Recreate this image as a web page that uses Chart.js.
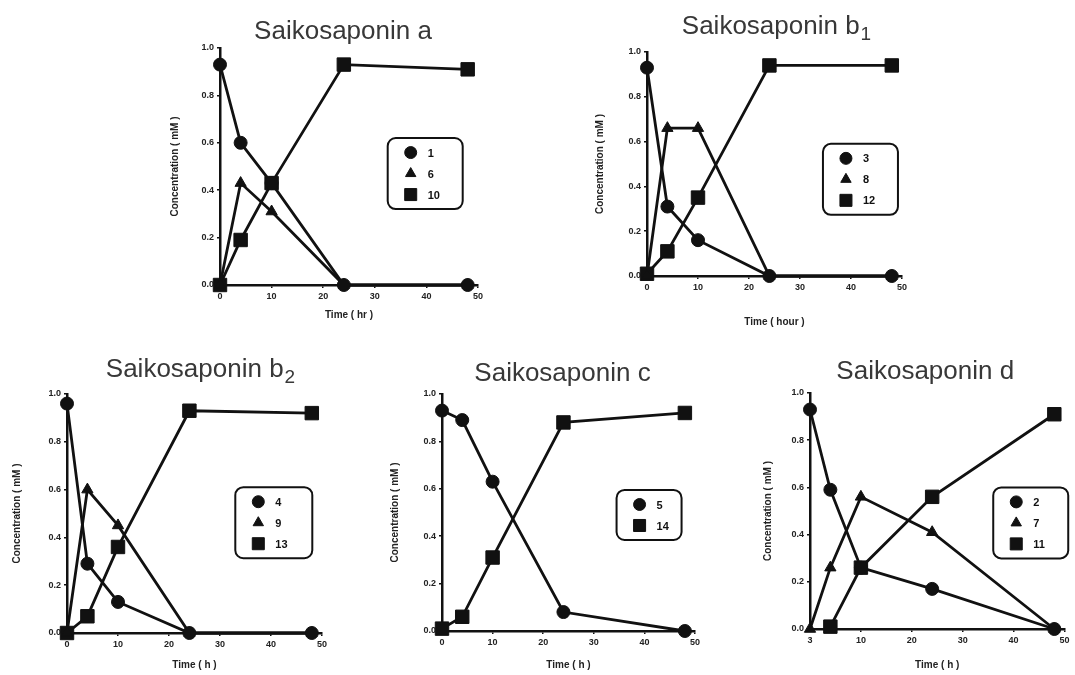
<!DOCTYPE html>
<html>
<head>
<meta charset="utf-8">
<script src="https://cdn.jsdelivr.net/npm/chart.js@4.4.1/dist/chart.umd.min.js"></script>
<style>
  html, body { margin: 0; padding: 0; background: #fff; width: 1075px; height: 675px; overflow: hidden; }
  .panel { position: absolute; }
</style>
</head>
<body>
<div class="panel" id="p0"><canvas id="c0"></canvas></div>
<div class="panel" id="p1"><canvas id="c1"></canvas></div>
<div class="panel" id="p2"><canvas id="c2"></canvas></div>
<div class="panel" id="p3"><canvas id="c3"></canvas></div>
<div class="panel" id="p4"><canvas id="c4"></canvas></div>
<script>
// sampling times (h) shared by every panel
const times = [0, 4, 10, 24, 48];
const xTickLabels = ['0', '10', '20', '30', '40', '50'];
const dTickLabels = ['3', '10', '20', '30', '40', '50'];
const yTickLabels = ['0.0', '0.2', '0.4', '0.6', '0.8', '1.0'];

// Saikosaponin a
const saA_1 = [0.93, 0.60, 0.43, 0.00, 0.00];
const saA_6 = [0.00, 0.43, 0.31, 0.00, 0.00];
const saA_10 = [0.00, 0.19, 0.43, 0.93, 0.91];

// Saikosaponin b1
const saB1_3 = [0.93, 0.31, 0.16, 0.00, 0.00];
const saB1_8 = [0.00, 0.66, 0.66, 0.00, 0.00];
const saB1_12 = [0.01, 0.11, 0.35, 0.94, 0.94];

// Saikosaponin b2
const saB2_4 = [0.96, 0.29, 0.13, 0.00, 0.00];
const saB2_9 = [0.00, 0.60, 0.45, 0.00, 0.00];
const saB2_13 = [0.00, 0.07, 0.36, 0.93, 0.92];

// Saikosaponin c
const saC_5 = [0.93, 0.89, 0.63, 0.08, 0.00];
const saC_14 = [0.01, 0.06, 0.31, 0.88, 0.92];

// Saikosaponin d
const saD_2 = [0.93, 0.59, 0.26, 0.17, 0.00];
const saD_7 = [0.00, 0.26, 0.56, 0.41, 0.00];
const saD_11 = [null, 0.01, 0.26, 0.56, 0.91];

const FONT = "'Liberation Sans', Arial, Helvetica, sans-serif";
const INK = '#111';

function pts(vals) {
  return vals.map((v, i) => ({ x: times[i], y: v }));
}

function series(label, vals, style) {
  return {
    label: label,
    data: pts(vals),
    pointStyle: style,
    pointRadius: style === 'rect' ? 9.5 : 6.5,
    pointHoverRadius: style === 'rect' ? 9.5 : 6.5,
    pointBackgroundColor: INK,
    pointBorderColor: INK,
    pointBorderWidth: 1,
    borderColor: INK,
    borderWidth: 2.8,
    tension: 0,
    fill: false,
    clip: false
  };
}

// title with optional subscript
const titlePlugin = {
  id: 'panelTitle',
  afterDraw(chart, args, o) {
    const { ctx, chartArea: a } = chart;
    ctx.save();
    ctx.fillStyle = '#383838';
    ctx.textBaseline = 'alphabetic';
    ctx.font = '26px ' + FONT;
    const w1 = ctx.measureText(o.text).width;
    ctx.font = '19px ' + FONT;
    const w2 = o.sub ? ctx.measureText(o.sub).width + 1 : 0;
    const x = (a.left + a.right) / 2 + o.dx - (w1 + w2) / 2;
    ctx.font = '26px ' + FONT;
    ctx.textAlign = 'left';
    ctx.fillText(o.text, x, o.y + 9);
    if (o.sub) {
      ctx.font = '19px ' + FONT;
      ctx.fillText(o.sub, x + w1 + 1, o.y + 15);
    }
    ctx.restore();
  }
};

// boxed legend inside the plot
const boxLegend = {
  id: 'boxLegend',
  afterDraw(chart, args, o) {
    const { ctx, chartArea: a } = chart;
    const sets = chart.data.datasets;
    const n = sets.length;
    const x0 = a.left + o.fx * (a.right - a.left);
    const y0 = a.top + o.fy * (a.bottom - a.top);
    const h = n * 21 + 8;
    ctx.save();
    ctx.strokeStyle = INK;
    ctx.lineWidth = 2;
    ctx.beginPath();
    ctx.roundRect(x0, y0, o.w, h, 8);
    ctx.stroke();
    sets.forEach((ds, i) => {
      const cy = y0 + 14.5 + i * 21;
      ctx.fillStyle = INK;
      ctx.strokeStyle = INK;
      ctx.lineWidth = 1;
      Chart.helpers.drawPoint(ctx, {
        pointStyle: ds.pointStyle,
        radius: ds.pointStyle === 'rect' ? 8.5 : 6,
        rotation: 0,
        borderWidth: 1
      }, x0 + 23, cy);
      ctx.font = 'bold 11px ' + FONT;
      ctx.textAlign = 'left';
      ctx.textBaseline = 'middle';
      ctx.fillText(ds.label, x0 + 40, cy + 1);
    });
    ctx.restore();
  }
};

const panels = [
  { id: 0, left: 165, top: 0, w: 333, h: 325, padTop: 48, padRight: 20, yW: 55, xH: 40,
    title: 'Saikosaponin a', sub: '', tdx: -6, ty: 30, xTitle: 'Time ( hr )', xLabels: xTickLabels,
    leg: { fx: 0.65, fy: 0.38, w: 75 },
    sets: [series('1', saA_1, 'circle'), series('6', saA_6, 'triangle'), series('10', saA_10, 'rect')] },
  { id: 1, left: 590, top: 0, w: 332, h: 332, padTop: 52, padRight: 20, yW: 57, xH: 56,
    title: 'Saikosaponin b', sub: '1', tdx: 2, ty: 25, xTitle: 'Time ( hour )', xLabels: xTickLabels,
    leg: { fx: 0.69, fy: 0.41, w: 75 },
    sets: [series('3', saB1_3, 'circle'), series('8', saB1_8, 'triangle'), series('12', saB1_12, 'rect')] },
  { id: 2, left: 7, top: 340, w: 335, h: 335, padTop: 54, padRight: 20, yW: 60, xH: 42,
    title: 'Saikosaponin b', sub: '2', tdx: 6, ty: 28, xTitle: 'Time ( h )', xLabels: xTickLabels,
    leg: { fx: 0.66, fy: 0.39, w: 77 },
    sets: [series('4', saB2_4, 'circle'), series('9', saB2_9, 'triangle'), series('13', saB2_13, 'rect')] },
  { id: 3, left: 385, top: 340, w: 330, h: 335, padTop: 54, padRight: 20, yW: 57, xH: 44,
    title: 'Saikosaponin c', sub: '', tdx: -6, ty: 32, xTitle: 'Time ( h )', xLabels: xTickLabels,
    leg: { fx: 0.69, fy: 0.405, w: 65 },
    sets: [series('5', saC_5, 'circle'), series('14', saC_14, 'rect')] },
  { id: 4, left: 758, top: 340, w: 317, h: 335, padTop: 53, padRight: 5, yW: 52, xH: 46,
    title: 'Saikosaponin d', sub: '', tdx: -12, ty: 30, xTitle: 'Time ( h )', xLabels: dTickLabels,
    leg: { fx: 0.72, fy: 0.40, w: 75 },
    sets: [series('2', saD_2, 'circle'), series('7', saD_7, 'triangle'), series('11', saD_11, 'rect')] }
];

panels.forEach(p => {
  const box = document.getElementById('p' + p.id);
  box.style.left = p.left + 'px';
  box.style.top = p.top + 'px';
  box.style.width = p.w + 'px';
  box.style.height = p.h + 'px';

  new Chart(document.getElementById('c' + p.id), {
    type: 'line',
    data: { datasets: p.sets },
    plugins: [titlePlugin, boxLegend],
    options: {
      responsive: true,
      maintainAspectRatio: false,
      devicePixelRatio: 1,
      animation: false,
      layout: { padding: { top: p.padTop, right: p.padRight, left: 0, bottom: 0 } },
      plugins: {
        legend: { display: false },
        tooltip: { enabled: false },
        panelTitle: { text: p.title, sub: p.sub, dx: p.tdx, y: p.ty },
        boxLegend: p.leg
      },
      scales: {
        x: {
          type: 'linear',
          min: 0,
          max: 50,
          ticks: {
            stepSize: 10,
            color: '#222',
            padding: 3,
            font: { family: FONT, size: 9, weight: 'bold' },
            callback: (v, i) => p.xLabels[i]
          },
          grid: { drawOnChartArea: false, drawTicks: true, tickLength: 3, color: INK, lineWidth: 1.5 },
          border: { color: INK, width: 2.5 },
          title: {
            display: true,
            text: p.xTitle,
            color: '#222',
            font: { family: FONT, size: 10, weight: 'bold' },
            padding: { top: 4, bottom: 4 }
          },
          afterFit: s => { s.height = p.xH; }
        },
        y: {
          min: 0,
          max: 1,
          ticks: {
            stepSize: 0.2,
            color: '#222',
            padding: 3,
            font: { family: FONT, size: 9, weight: 'bold' },
            callback: (v, i) => yTickLabels[i]
          },
          grid: { drawOnChartArea: false, drawTicks: true, tickLength: 3, color: INK, lineWidth: 1.5 },
          border: { color: INK, width: 2.5 },
          title: {
            display: true,
            text: 'Concentration ( mM )',
            color: '#222',
            font: { family: FONT, size: 10, weight: 'bold' },
            padding: { top: 4, bottom: 4 }
          },
          afterFit: s => { s.width = p.yW; }
        }
      }
    }
  });
});
</script>
</body>
</html>
